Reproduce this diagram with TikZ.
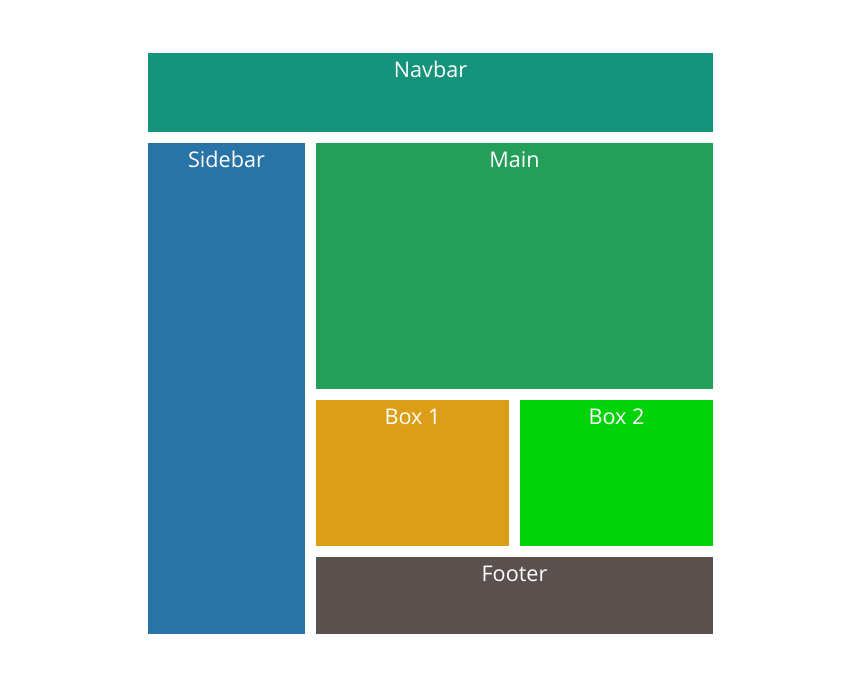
\documentclass[tikz,border=0pt]{standalone}
\usepackage{fontspec}
\setmainfont{Open Sans}
\usepackage{xcolor}
\definecolor{navbarcol}{RGB}{22,147,123}
\definecolor{sidebarcol}{RGB}{40,116,166}
\definecolor{maincol}{RGB}{35,159,90}
\definecolor{boxonecol}{RGB}{220,158,22}
\definecolor{boxtwocol}{RGB}{0,211,10}
\definecolor{footercol}{RGB}{90,81,78}

\begin{document}
\begin{tikzpicture}[
    x=0.75pt, y=-0.75pt,
    pane/.style={fill=#1, draw=none, inner sep=0pt, outer sep=0pt, anchor=north west},
    tag/.style={anchor=base, yshift=-18.5pt, text=white, font=\fontsize{16.2}{19}\selectfont}
]
\useasboundingbox (0,0) rectangle (861,683);
\node[pane=navbarcol, minimum width=565*0.75pt, minimum height=79*0.75pt, label={[tag]north:Navbar}] (navbar) at (148,53) {};
\node[pane=sidebarcol, minimum width=157*0.75pt, minimum height=491*0.75pt, label={[tag]north:Sidebar}] (sidebar) at (148,143) {};
\node[pane=maincol, minimum width=397*0.75pt, minimum height=246*0.75pt, label={[tag]north:Main}] (main) at (316,143) {};
\node[pane=boxonecol, minimum width=193*0.75pt, minimum height=146*0.75pt, label={[tag]north:Box 1}] (box1) at (316,400) {};
\node[pane=boxtwocol, minimum width=193*0.75pt, minimum height=146*0.75pt, label={[tag]north:Box 2}] (box2) at (520,400) {};
\node[pane=footercol, minimum width=397*0.75pt, minimum height=77*0.75pt, label={[tag]north:Footer}] (footer) at (316,557) {};
\end{tikzpicture}
\end{document}
